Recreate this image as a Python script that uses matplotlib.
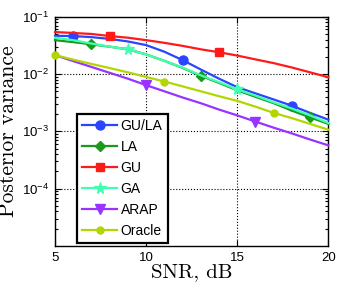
import matplotlib
matplotlib.use("Agg")
import matplotlib.pyplot as plt
from matplotlib.ticker import LogLocator, FixedLocator, NullFormatter

snr = [5, 6, 7, 8, 9, 10, 11, 12, 13, 14, 15, 16, 17, 18, 19, 20]
gu_la = [0.0465, 0.046, 0.044, 0.041, 0.037, 0.032, 0.0245, 0.0175, 0.0120, 0.0083, 0.0059, 0.0046, 0.0036, 0.0028, 0.0021, 0.0016]
la = [0.039, 0.036, 0.033, 0.030, 0.027, 0.022, 0.017, 0.0128, 0.0093, 0.0070, 0.0052, 0.0040, 0.0031, 0.0023, 0.00175, 0.00135]
gu = [0.054, 0.052, 0.050, 0.046, 0.043, 0.039, 0.035, 0.031, 0.027, 0.024, 0.021, 0.018, 0.0155, 0.013, 0.0107, 0.0088]
ga = [0.043, 0.039, 0.034, 0.030, 0.027, 0.022, 0.017, 0.013, 0.0095, 0.0072, 0.0054, 0.0042, 0.0032, 0.0025, 0.0019, 0.0014]
arap = [0.0214, 0.0168, 0.0133, 0.0105, 0.0083, 0.0064, 0.0050, 0.0039, 0.0031, 0.0024, 0.0019, 0.00148, 0.00116, 0.00092, 0.00072, 0.00057]
oracle = [0.0214, 0.0178, 0.0150, 0.0127, 0.0107, 0.0089, 0.0074, 0.0061, 0.0050, 0.0041, 0.0034, 0.0027, 0.0021, 0.0017, 0.00135, 0.00107]

labels = ["GU/LA", "LA", "GU", "GA", "ARAP", "Oracle"]
xticks = [5, 10, 15, 20]
yticks = [1e-4, 1e-3, 1e-2, 1e-1]
ytick_labels = [r"$\mathregular{10^{-4}}$", r"$\mathregular{10^{-3}}$", r"$\mathregular{10^{-2}}$", r"$\mathregular{10^{-1}}$"]

plt.rcParams['font.family'] = ['Liberation Sans', 'DejaVu Sans']

fig = plt.figure(figsize=(3.41, 2.91), dpi=100)
ax = fig.add_axes([0.1613, 0.1546, 0.8015, 0.788])

series = [gu_la, la, gu, ga, arap, oracle]
colors = ['#2a45ff', '#1a991a', '#ff1a1a', '#40ffb0', '#9933ff', '#b3d600']
markers = ['o', 'D', 's', '*', 'v', 'o']
msizes = [6.5, 5.5, 5.5, 8.5, 7.5, 5]
marks = [[1, 7, 13], [2, 8, 14], [3, 9], [4, 10], [5, 11], [0, 6, 12]]

for y, c, m, ms, mk, lab in zip(series, colors, markers, msizes, marks, labels):
    ax.semilogy(snr, y, color=c, marker=m, markersize=ms, markevery=mk,
                linewidth=1.6, label=lab, clip_on=False, zorder=3)

ax.set_xlim(5, 20)
ax.set_ylim(1e-5, 1e-1)
ax.xaxis.set_major_locator(FixedLocator(xticks))
ax.set_xticklabels([str(v) for v in xticks])
ax.yaxis.set_major_locator(FixedLocator(yticks))
ax.set_yticklabels(ytick_labels)
ax.yaxis.set_minor_locator(LogLocator(base=10, subs=range(2, 10), numticks=20))
ax.yaxis.set_minor_formatter(NullFormatter())
ax.tick_params(which='both', direction='in', top=True, right=True, labelsize=9.5, width=0.8)
ax.tick_params(which='major', length=4, pad=4)
ax.tick_params(which='minor', length=2)
ax.grid(True, which='major', linestyle=':', color='black', linewidth=0.8)
for s in ax.spines.values():
    s.set_linewidth(1.0)

ax.set_xlabel("SNR, dB", fontfamily='cmr10', fontsize=15, labelpad=0)
ax.set_ylabel("Posterior variance", fontfamily='cmr10', fontsize=15.5, labelpad=3)

leg = ax.legend(loc='lower left', bbox_to_anchor=(0.0805, 0.013), borderaxespad=0,
                fontsize=10, handlelength=2.5, handletextpad=0.25, labelspacing=0.5,
                borderpad=0.38, fancybox=False, framealpha=1, edgecolor='black')
leg.get_frame().set_linewidth(1.6)

fig.savefig("out.png", dpi=100)
